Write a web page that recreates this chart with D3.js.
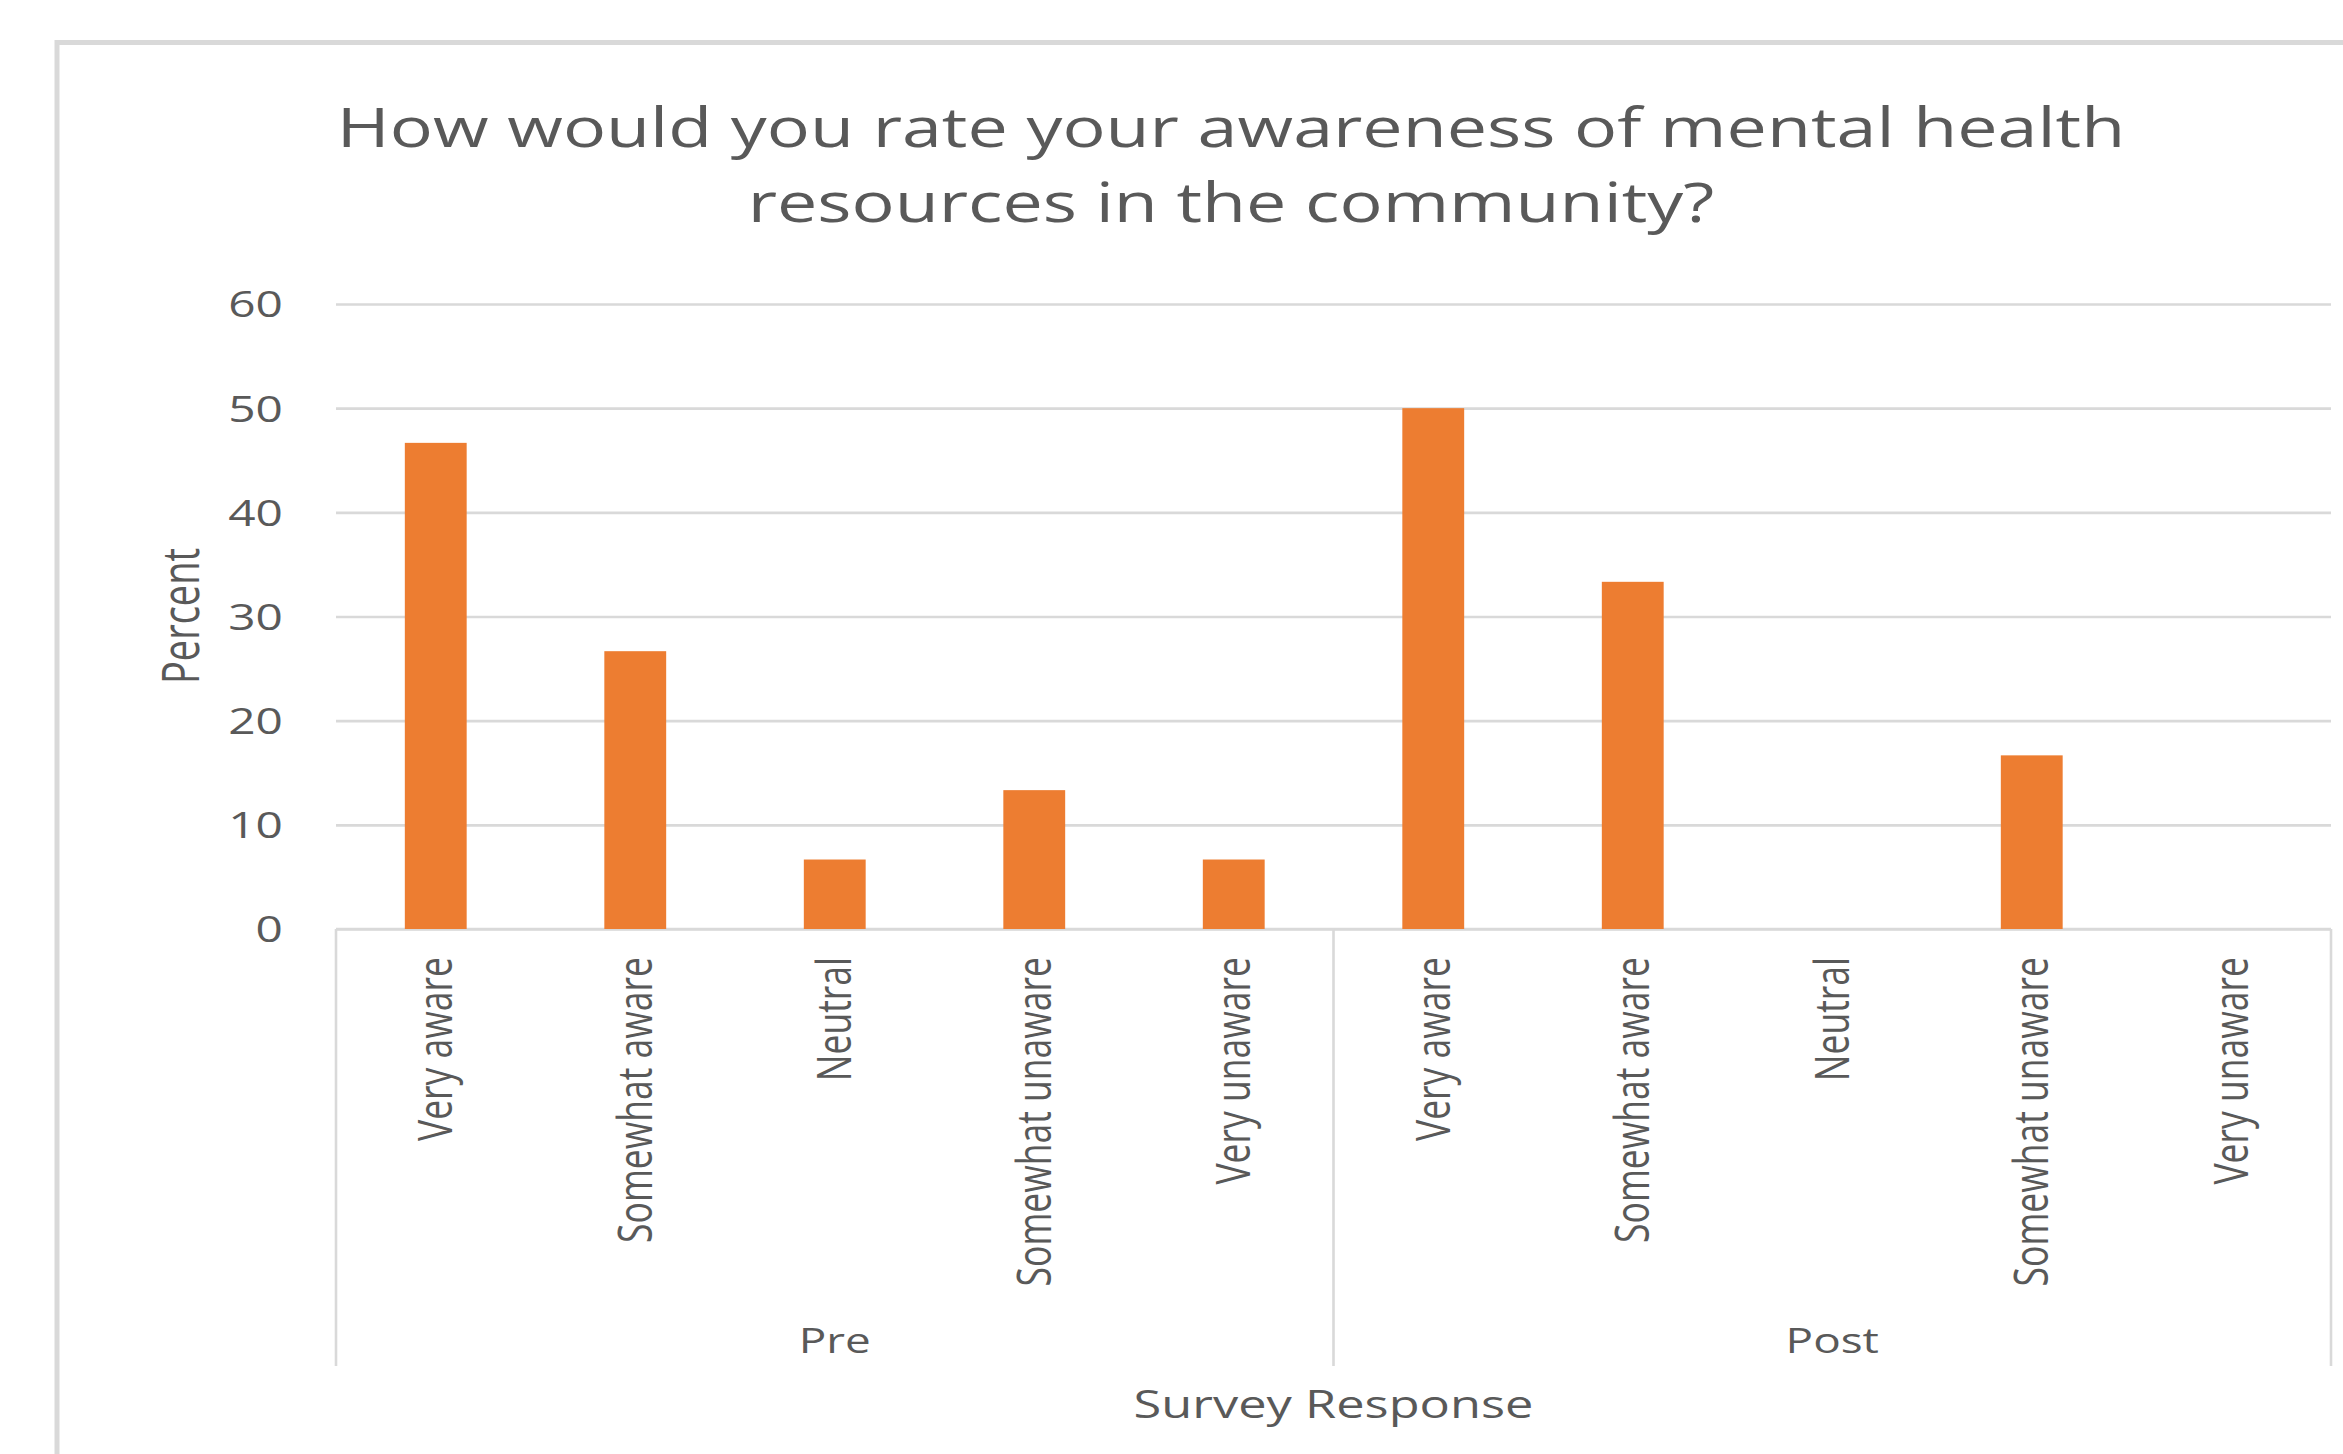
<!DOCTYPE html>
<html>
<head>
<meta charset="utf-8">
<script src="https://cdn.jsdelivr.net/npm/d3@7"></script>
<style>
  html, body { margin: 0; padding: 0; background: #ffffff; }
  svg { display: block; }
  text { font-family: "Open Sans", "Liberation Sans", sans-serif; fill: #595959; }
</style>
</head>
<body>
<svg id="chart" width="2343" height="1454"></svg>
<script>
// Survey results: share of respondents (percent) per awareness level, before and after.
const groups = ["Pre", "Post"];
const responses = ["Very aware", "Somewhat aware", "Neutral", "Somewhat unaware", "Very unaware"];
const preValues = [46.67, 26.67, 6.67, 13.33, 6.67];
const postValues = [50, 33.33, 0, 16.67, 0];
const yTicks = [0, 10, 20, 30, 40, 50, 60];
const titleLines = ["How would you rate your awareness of mental health", "resources in the community?"];
const yTitle = "Percent";
const xTitle = "Survey Response";

const valuesByGroup = { Pre: preValues, Post: postValues };
const rows = groups.flatMap(g => responses.map((r, i) => ({ group: g, response: r, value: valuesByGroup[g][i] })));

// Layout
const W = 2343, H = 1454;
const plot = { left: 336, right: 2331, top: 304, bottom: 929 };
const axisBoxBottom = 1366;
const SX = 1.33;           // horizontal glyph stretch used for all text
const gridColor = "#d9d9d9";
const barColor = "#ed7d31";

const svg = d3.select("#chart");

// Chart frame
svg.append("rect")
  .attr("x", 57).attr("y", 42.5)
  .attr("width", 2400).attr("height", 1500)
  .attr("fill", "#ffffff")
  .attr("stroke", gridColor).attr("stroke-width", 5);

// Scales
const y = d3.scaleLinear().domain([0, 60]).range([plot.bottom, plot.top]);
const xGroup = d3.scaleBand().domain(groups).range([plot.left, plot.right]).padding(0);
const xCat = d3.scaleBand().domain(responses).range([0, xGroup.bandwidth()])
  .paddingInner(0.69).paddingOuter(0.345);

// Horizontal text helper with stretched glyphs
function stretchedText(sel, x, yPos, size, anchor) {
  return sel.attr("x", 0).attr("y", 0)
    .attr("transform", `translate(${x},${yPos}) scale(${SX},1)`)
    .attr("font-size", size)
    .attr("text-anchor", anchor || "middle");
}

// Y axis with gridlines
const yAxis = d3.axisLeft(y).tickValues(yTicks).tickSize(-(plot.right - plot.left)).tickPadding(53);
const yg = svg.append("g").attr("transform", `translate(${plot.left},0)`).call(yAxis);
yg.select(".domain").remove();
yg.selectAll(".tick line").attr("stroke", gridColor).attr("stroke-width", 2.6);
yg.selectAll(".tick text")
  .attr("x", 0).attr("dy", "0.36em")
  .attr("transform", `translate(-53,0) scale(${SX},1)`)
  .attr("font-size", 36)
  .attr("fill", "#595959")
  .style("font-family", "\"Open Sans\", sans-serif");

// Category box below the baseline
const boundaries = [plot.left].concat(groups.map(g => xGroup(g) + xGroup.bandwidth()));
svg.append("line")
  .attr("x1", plot.left).attr("x2", plot.right)
  .attr("y1", y(0)).attr("y2", y(0))
  .attr("stroke", gridColor).attr("stroke-width", 2.6);
svg.selectAll("line.sep").data(boundaries).join("line")
  .attr("class", "sep")
  .attr("x1", d => d).attr("x2", d => d)
  .attr("y1", y(0)).attr("y2", axisBoxBottom)
  .attr("stroke", gridColor).attr("stroke-width", 2.6);

// Bars
svg.append("g").selectAll("rect").data(rows).join("rect")
  .attr("x", d => xGroup(d.group) + xCat(d.response))
  .attr("width", xCat.bandwidth())
  .attr("y", d => y(d.value))
  .attr("height", d => y(0) - y(d.value))
  .attr("fill", barColor);

// Category labels (rotated)
svg.append("g").selectAll("text").data(rows).join("text")
  .attr("x", 0).attr("y", 0).attr("dy", "0.35em")
  .attr("transform", d => `translate(${xGroup(d.group) + xCat(d.response) + xCat.bandwidth() / 2},957) scale(${SX},1) rotate(-90)`)
  .attr("text-anchor", "end")
  .attr("font-size", 35.5)
  .text(d => d.response);

// Group labels
svg.append("g").selectAll("text").data(groups).join("text")
  .call(s => s.each(function (g) {
    stretchedText(d3.select(this), xGroup(g) + xGroup.bandwidth() / 2, 1353, 34.5, "middle");
  }))
  .text(d => d);

// Axis titles
stretchedText(svg.append("text"), (plot.left + plot.right) / 2, 1418, 38, "middle").text(xTitle);
svg.append("text")
  .attr("x", 0).attr("y", 0)
  .attr("transform", `translate(199,616) scale(${SX},1) rotate(-90)`)
  .attr("text-anchor", "middle")
  .attr("font-size", 38)
  .text(yTitle);

// Chart title
svg.append("g").selectAll("text").data(titleLines).join("text")
  .each(function (t, i) {
    stretchedText(d3.select(this), 1231, 147 + i * 75, 54, "middle");
  })
  .text(d => d);
</script>
</body>
</html>
